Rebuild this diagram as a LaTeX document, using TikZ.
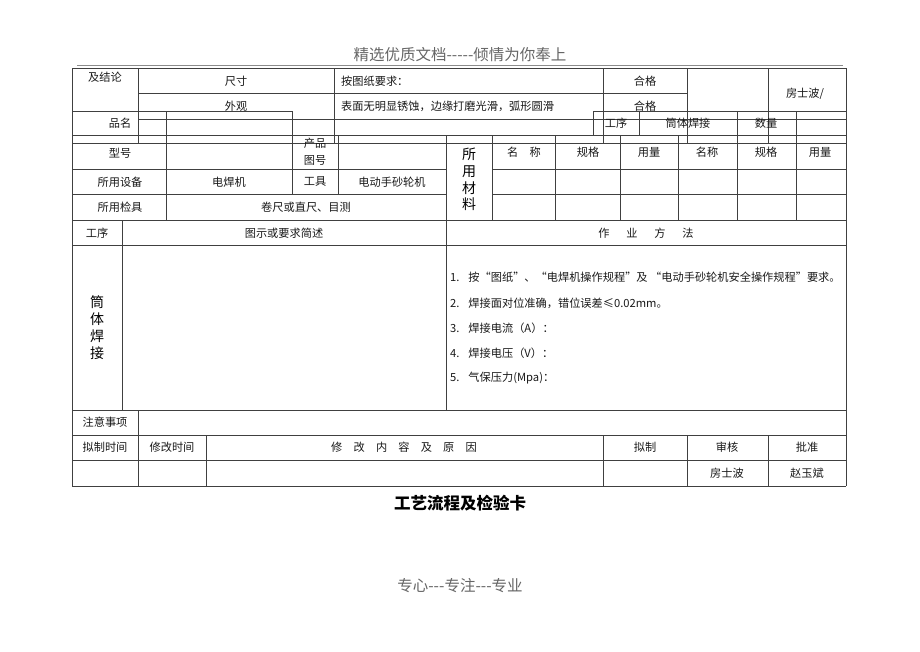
\documentclass[tikz,border=0pt]{standalone}
\usepackage{fontspec}
\setmainfont{Noto Sans CJK SC}[Ligatures=TeXOff]
\begin{document}
\begin{tikzpicture}[x=1pt,y=-1pt,
  grid/.style={draw=black!75,line width=0.7pt},
  thin/.style={draw=black!45,line width=0.6pt},
  t/.style={font=\fontsize{11.2}{13}\selectfont,inner sep=0pt,text=black!90},
  tl/.style={t,anchor=west},
  big/.style={font=\fontsize{14}{16}\selectfont,inner sep=0pt,text=black},
  hdr/.style={font=\fontsize{15.5}{17}\selectfont,inner sep=0pt,text=black!60}]
\useasboundingbox (0,0) rectangle (920,651);
\fill[white] (0,0) rectangle (920,651);
% header rule
\draw[thin] (77,65.5) -- (843,65.5);
% horizontal lines
\foreach \y/\a/\b in {68/72/846, 93/138/687, 111/72/292, 111/593/846, 119/138/846,
   135/72/846, 143.5/72/846, 169/72/446, 169/492/846, 194.5/72/446, 194.5/492/846,
   220/72/846, 245/72/846, 410/72/846, 435/72/846, 460/72/846, 486/72/846}
  \draw[grid] (\a,\y) -- (\b,\y);
% vertical lines
\foreach \x/\a/\b in {72/68/486, 846/68/486, 138/68/143.5, 166/111/220, 292/111/195,
   334/68/143.5, 338/135/195, 446/135/410, 492/135/220, 555/135/220, 620/135/220,
   678/135/220, 737/111/220, 796/111/220, 593/111/135, 603/68/143.5, 639/111/135,
   687/68/143.5, 768/68/143.5, 122/220/410, 138/410/486, 206/435/486, 603/435/486,
   687/435/486, 768/435/486}
  \draw[grid] (\x,\a) -- (\x,\b);
% texts
\node[hdr] (h1) at (460,55) {精选优质文档-----倾情为你奉上};
\node[hdr] (h2) at (460,586) {专心---专注---专业};
\node[t] (a1) at (105,77) {及结论};
\node[t] (a2) at (236,81) {尺寸};
\node[tl] (a3) at (341,81) {按图纸要求：};
\node[t] (a4) at (645,81) {合格};
\node[t] (a5) at (805,94) {房士波/};
\node[t] (a6) at (236,106) {外观};
\node[tl] (a7) at (341,106) {表面无明显锈蚀，边缘打磨光滑，弧形圆滑};
\node[t] (a8) at (645,106) {合格};
\node[t] (b1) at (120,123) {品名};
\node[t] (b2) at (616,123) {工序};
\node[t] (b3) at (688,123) {筒体焊接};
\node[t] (b4) at (766,123) {数量};
\node[t] (c1) at (120,153) {型号};
\node[t] (c2) at (315,143) {产品};
\node[t] (c3) at (315,160) {图号};
\node[big] (m1) at (469,154) {所};
\node[big] (m2) at (469,172) {用};
\node[big] (m3) at (469,188) {材};
\node[big] (m4) at (469,204) {料};
\node[t] (c4) at (524,152) {名\hspace{1em}称};
\node[t] (c5) at (588,152) {规格};
\node[t] (c6) at (649,152) {用量};
\node[t] (c7) at (707,152) {名称};
\node[t] (c8) at (766,152) {规格};
\node[t] (c9) at (820,152) {用量};
\node[t] (d1) at (120,182) {所用设备};
\node[t] (d2) at (229,182) {电焊机};
\node[t] (d3) at (315,182) {工具};
\node[t] (d4) at (392,182) {电动手砂轮机};
\node[t] (e1) at (120,207) {所用检具};
\node[t] (e2) at (306,207) {卷尺或直尺、目测};
\node[t] (f1) at (97,233) {工序};
\node[t] (f2) at (284,233) {图示或要求简述};
\node[t] (f3) at (646,233) {作\hspace{1.5em}业\hspace{1.5em}方\hspace{1.5em}法};
\node[big] (g1) at (97,302) {筒};
\node[big] (g2) at (97,319) {体};
\node[big] (g3) at (97,336) {焊};
\node[big] (g4) at (97,353) {接};
\node[tl] (l1) at (450,277) {1.\hspace{0.8em}按“图纸”、“电焊机操作规程”及 “电动手砂轮机安全操作规程”要求。};
\node[tl] (l2) at (450,303) {2.\hspace{0.8em}焊接面对位准确，错位误差≤0.02mm。};
\node[tl] (l3) at (450,328) {3.\hspace{0.8em}焊接电流（A）：};
\node[tl] (l4) at (450,353) {4.\hspace{0.8em}焊接电压（V）：};
\node[tl] (l5) at (450,378) {5.\hspace{0.8em}气保压力(Mpa)：};
\node[t] (n1) at (105,422) {注意事项};
\node[t] (n2) at (105,447) {拟制时间};
\node[t] (n3) at (172,447) {修改时间};
\node[t] (n4) at (404,447) {修\hspace{1em}改\hspace{1em}内\hspace{1em}容\hspace{1em}及\hspace{1em}原\hspace{1em}因};
\node[t] (n5) at (645,447) {拟制};
\node[t] (n6) at (727,447) {审核};
\node[t] (n7) at (807,447) {批准};
\node[t] (n8) at (727,473) {房士波};
\node[t] (n9) at (807,473) {赵玉斌};
\node[font=\fontsize{16.5}{18}\selectfont\bfseries,inner sep=0pt] (ti) at (460,503) {工艺流程及检验卡};
\end{tikzpicture}
\end{document}
